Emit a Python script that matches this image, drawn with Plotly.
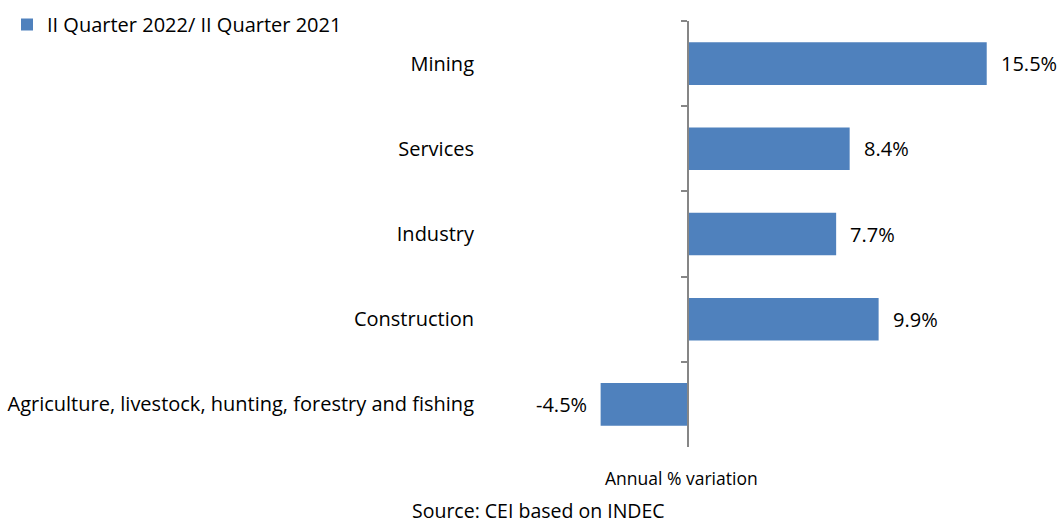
import plotly.graph_objects as go

categories = ["Mining", "Services", "Industry", "Construction",
              "Agriculture, livestock, hunting, forestry and fishing"]
values = [15.5, 8.4, 7.7, 9.9, -4.5]
value_labels = ["15.5%", "8.4%", "7.7%", "9.9%", "-4.5%"]
series_name = "II Quarter 2022/ II Quarter 2021"
axis_note = "Annual % variation"
source_note = "Source: CEI based on INDEC"

W, H = 1062, 523
L, R, T, B = 485, 22, 21, 76
pw, ph = W - L - R, H - T - B
xmin, xmax = -10.49, 18.26
zero_frac = (0 - xmin) / (xmax - xmin)

FONT = "Open Sans"
bar_color = "#4F81BD"
axis_color = "#868686"

fig = go.Figure()
fig.add_trace(go.Bar(
    x=values, y=categories, orientation="h", name=series_name,
    marker=dict(color=bar_color, line=dict(width=0)), width=0.5,
    showlegend=True,
))
fig.add_trace(go.Scatter(
    x=[0] * len(categories), y=categories, yaxis="y2", mode="markers",
    marker=dict(opacity=0), showlegend=False, hoverinfo="skip",
))

annotations = []
for c, v, t in zip(categories, values, value_labels):
    annotations.append(dict(
        x=v, y=c, xref="x", yref="y", text=t, showarrow=False,
        xanchor="left" if v >= 0 else "right", xshift=12 if v >= 0 else -12,
        font=dict(family=FONT, size=20, color="#000000"),
    ))
annotations.append(dict(
    x=(681 - L) / pw, y=(447 - 478) / ph, xref="paper", yref="paper",
    text=axis_note, showarrow=False, xanchor="center", yanchor="middle",
    font=dict(family=FONT, size=17.5, color="#000000"),
))
annotations.append(dict(
    x=(538 - L) / pw, y=(447 - 510) / ph, xref="paper", yref="paper",
    text=source_note, showarrow=False, xanchor="center", yanchor="middle",
    font=dict(family=FONT, size=19.5, color="#000000"),
))

fig.update_layout(
    width=W, height=H,
    margin=dict(l=L, r=R, t=T, b=B, pad=0, autoexpand=False),
    paper_bgcolor="white", plot_bgcolor="white",
    font=dict(family=FONT, size=20, color="#000000"),
    xaxis=dict(range=[xmin, xmax], showgrid=False, zeroline=False,
               showticklabels=False, showline=False, ticks=""),
    yaxis=dict(type="category", categoryorder="array", categoryarray=categories,
               range=[len(categories) - 0.5, -0.5], showgrid=False,
               zeroline=False, showline=False, ticks="",
               ticklabelstandoff=10, tickfont=dict(family=FONT, size=20)),
    yaxis2=dict(type="category", categoryorder="array", categoryarray=categories,
                range=[len(categories) - 0.5, -0.5], overlaying="y",
                anchor="free", position=zero_frac, side="left",
                showgrid=False, zeroline=False, showline=True,
                linecolor=axis_color, linewidth=1.5, ticks="outside",
                tickson="boundaries", ticklen=6, tickcolor=axis_color,
                tickwidth=1.5, showticklabels=False),
    legend=dict(xref="container", yref="container", x=7 / W, y=1 - 5 / H,
                xanchor="left", yanchor="top", orientation="h",
                font=dict(family=FONT, size=20), bgcolor="rgba(0,0,0,0)"),
    annotations=annotations,
    bargap=0.5,
)

fig.write_html("out.html")
